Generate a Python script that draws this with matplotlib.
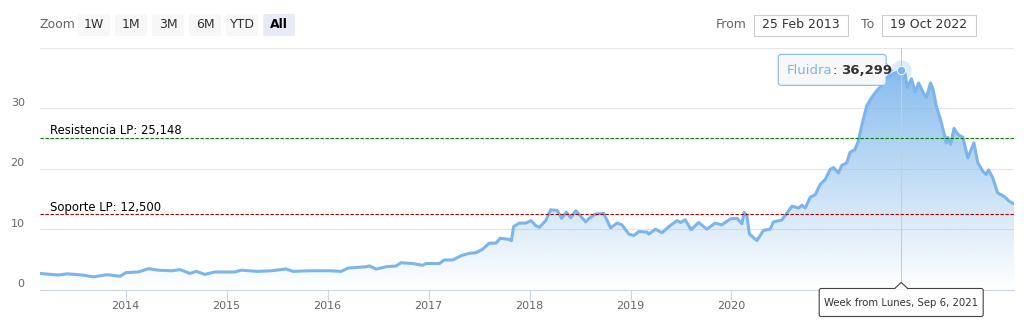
import numpy as np
import pandas as pd
import matplotlib
matplotlib.use("Agg")
import matplotlib.pyplot as plt
import matplotlib.dates as mdates
from matplotlib.patches import FancyBboxPatch, Rectangle, Polygon
from matplotlib.colors import to_rgb
from matplotlib.transforms import ScaledTranslation

# weekly close of Fluidra
dates = [
    "2013-02-25", "2013-05-04", "2013-06-03", "2013-07-27", "2013-09-07", "2013-10-25",
    "2013-12-12", "2014-01-02", "2014-02-16", "2014-03-24", "2014-04-29", "2014-06-16",
    "2014-07-16", "2014-08-21", "2014-09-14", "2014-10-14", "2014-11-19", "2015-01-30",
    "2015-02-23", "2015-04-24", "2015-06-11", "2015-08-04", "2015-08-29", "2015-10-28",
    "2016-01-09", "2016-02-20", "2016-03-15", "2016-05-20", "2016-06-01", "2016-06-25",
    "2016-07-31", "2016-09-05", "2016-09-23", "2016-11-04", "2016-12-10", "2016-12-22",
    "2017-02-09", "2017-02-25", "2017-03-29", "2017-04-28", "2017-05-28", "2017-06-21",
    "2017-07-15", "2017-08-08", "2017-09-01", "2017-09-17", "2017-10-19", "2017-10-27",
    "2017-11-04", "2017-11-24", "2017-12-18", "2018-01-06", "2018-01-24", "2018-02-05",
    "2018-02-28", "2018-03-18", "2018-04-11", "2018-04-27", "2018-05-14", "2018-05-30",
    "2018-06-17", "2018-07-23", "2018-08-03", "2018-08-28", "2018-09-26", "2018-10-21",
    "2018-11-13", "2018-12-01", "2018-12-26", "2019-01-13", "2019-01-31", "2019-03-02",
    "2019-03-08", "2019-04-01", "2019-04-25", "2019-05-19", "2019-06-18", "2019-07-01",
    "2019-07-18", "2019-08-08", "2019-09-04", "2019-10-04", "2019-11-03", "2019-11-27",
    "2019-12-28", "2020-01-21", "2020-02-08", "2020-02-16", "2020-02-26", "2020-03-06",
    "2020-04-02", "2020-04-26", "2020-05-20", "2020-06-01", "2020-07-01", "2020-08-07",
    "2020-08-31", "2020-09-12", "2020-09-24", "2020-10-12", "2020-10-30", "2020-11-17",
    "2020-12-05", "2020-12-23", "2021-01-04", "2021-01-22", "2021-02-03", "2021-02-21",
    "2021-03-05", "2021-03-23", "2021-04-04", "2021-04-16", "2021-05-04", "2021-05-22",
    "2021-06-09", "2021-06-27", "2021-07-14", "2021-08-07", "2021-09-06", "2021-09-20",
    "2021-09-28", "2021-10-13", "2021-10-27", "2021-11-08", "2021-11-24", "2021-12-06",
    "2021-12-21", "2021-12-30", "2022-01-11", "2022-01-29", "2022-02-16", "2022-02-22",
    "2022-03-04", "2022-03-16", "2022-03-30", "2022-04-17", "2022-05-05", "2022-05-27",
    "2022-06-10", "2022-06-28", "2022-07-10", "2022-07-19", "2022-08-03", "2022-08-21",
    "2022-09-14", "2022-10-02", "2022-10-19",
]
values = [
    2.65, 2.4, 2.6, 2.4, 2.1, 2.45,
    2.2, 2.8, 2.9, 3.45, 3.2, 3.1,
    3.3, 2.67, 3.0, 2.5, 2.9, 2.9,
    3.2, 3.0, 3.1, 3.4, 3.0, 3.1,
    3.1, 3.0, 3.55, 3.77, 3.9, 3.38,
    3.77, 3.9, 4.44, 4.3, 4.0, 4.3,
    4.3, 4.88, 4.9, 5.6, 6.0, 6.1,
    6.67, 7.67, 7.67, 8.5, 8.3, 8.1,
    10.4, 11.0, 11.0, 11.4, 10.55, 10.3,
    11.4, 13.2, 13.1, 11.8, 12.8, 11.9,
    13.05, 11.2, 11.75, 12.5, 12.6, 10.2,
    11.0, 10.7, 9.17, 8.94, 9.6, 9.5,
    9.17, 10.0, 9.4, 10.4, 11.4, 11.1,
    11.55, 9.9, 11.1, 10.0, 11.0, 10.7,
    11.7, 11.8, 10.9, 12.8, 12.2, 9.2,
    8.1, 9.8, 10.0, 11.2, 11.5, 13.8,
    13.5, 13.95, 13.5, 15.3, 15.7, 17.4,
    18.2, 19.9, 20.2, 19.3, 20.55, 21.0,
    22.7, 23.2, 24.6, 27.1, 30.4, 31.8,
    32.9, 33.8, 34.9, 35.7, 36.299, 35.7,
    33.5, 34.9, 32.7, 34.2, 32.7, 31.8,
    34.2, 33.2, 30.4, 27.7, 24.3, 25.2,
    24.05, 26.7, 25.7, 25.2, 21.8, 24.3,
    21.0, 19.6, 19.05, 19.8, 18.5, 16.0,
    15.4, 14.6, 14.2,
]
series_name = "Fluidra"
hover_date = "2021-09-06"
hover_label = "Week from Lunes, Sep 6, 2021"
resistance = 25.148
support = 12.5

year_ticks = ["2014-01-01", "2015-01-01", "2016-01-01", "2017-01-01", "2018-01-01",
              "2019-01-01", "2020-01-01", "2021-01-01", "2022-01-01"]
year_labels = ["2014", "2015", "2016", "2017", "2018", "2019", "2020", "2021", "2022"]
y_ticks = [0, 10, 20, 30, 40]
y_labels = ["0", "10", "20", "30", ""]
zoom_buttons = ["1W", "1M", "3M", "6M", "YTD", "All"]
range_from = "25 Feb 2013"
range_to = "19 Oct 2022"


def es(v):
    return f"{v:,.3f}".replace(".", "#").replace(",", ".").replace("#", ",")


blue = "#7cb5ec"
W, H = 1024, 327
plt.rcParams["font.family"] = "DejaVu Sans"

fig = plt.figure(figsize=(W / 100, H / 100), dpi=100)
ax = fig.add_axes([40 / W, (H - 289.5) / H, 974 / W, 241.5 / H])

x = mdates.date2num(pd.to_datetime(dates))
hx = mdates.date2num(pd.Timestamp(hover_date))
hy = values[dates.index(hover_date)]

# gradient area under the line
verts = np.vstack([np.column_stack([x, values]), [[x[-1], 0], [x[0], 0]]])
clip = Polygon(verts, closed=True, facecolor="none", edgecolor="none")
ax.add_patch(clip)
grad = np.zeros((256, 1, 4))
grad[:, :, :3] = to_rgb(blue)
grad[:, 0, 3] = np.linspace(1, 0, 256)
im = ax.imshow(grad, extent=[x[0], x[-1], 0, 40], origin="upper", aspect="auto",
               interpolation="bilinear", zorder=2)
im.set_clip_path(clip)

ax.plot(x, values, color=blue, lw=2.2, solid_joinstyle="round", zorder=4)

# support / resistance
for val, col, name in [(resistance, "#008000", "Resistencia LP"), (support, "#a50000", "Soporte LP")]:
    ax.axhline(val, color=col, lw=0.8, dashes=(3, 1.5), zorder=5)
    ax.annotate(f"{name}: {es(val)}", xy=(0, val), xycoords=("axes fraction", "data"),
                xytext=(7.5, 2.5), textcoords="offset points", va="baseline",
                fontsize=8.4, color="#000000", zorder=6)

# hover crosshair + point
ax.axvline(hx, color="#cccccc", lw=0.8, zorder=3)
ax.plot(hx, hy, "o", ms=14.5, color=blue, alpha=0.25, mec="none", zorder=7)
ax.plot(hx, hy, "o", ms=6, color=blue, mec="white", mew=0.6, zorder=8)

ax.set_xlim(mdates.date2num(pd.Timestamp("2013-02-25")), mdates.date2num(pd.Timestamp("2022-10-19")))
ax.set_ylim(0, 40)
ax.set_xticks(mdates.date2num(pd.to_datetime(year_ticks)))
ax.set_xticklabels(year_labels)
ax.set_yticks(y_ticks)
ax.set_yticklabels(y_labels)
ax.tick_params(axis="x", length=7.2, width=0.8, color="#ccd6eb", labelcolor="#666666",
               labelsize=8, pad=1)
ax.tick_params(axis="y", length=0, labelcolor="#666666", labelsize=8, pad=11)
off = ScaledTranslation(0, 4.5 / 72, fig.dpi_scale_trans)
for lab in ax.get_yticklabels():
    lab.set_transform(lab.get_transform() + off)
ax.grid(axis="y", color="#e6e6e6", lw=0.8)
ax.set_axisbelow(True)
for s in ["top", "left", "right"]:
    ax.spines[s].set_visible(False)
ax.spines["bottom"].set_color("#ccd6eb")
ax.spines["bottom"].set_linewidth(0.8)
ax.spines["bottom"].set_zorder(6)

# overlay in pixel coordinates for the range selector and tooltips
ov = fig.add_axes([0, 0, 1, 1])
ov.set_xlim(0, W)
ov.set_ylim(H, 0)
ov.axis("off")
ov.set_zorder(10)

ov.text(40, 25, "Zoom", color="#666666", fontsize=9, va="center", ha="left")
for i, b in enumerate(zoom_buttons):
    bx = 78 + i * 37
    sel = b == "All"
    ov.add_patch(FancyBboxPatch((bx, 14), 32, 22, boxstyle="round,pad=0,rounding_size=2",
                                fc="#e6ebf5" if sel else "#f7f7f7", ec="none"))
    ov.text(bx + 16, 25, b, color="#000000" if sel else "#333333", fontsize=9,
            fontweight="bold" if sel else "normal", ha="center", va="center")

ov.text(716, 25, "From", color="#666666", fontsize=9, va="center")
ov.add_patch(Rectangle((753.5, 14.5), 94, 21, fc="white", ec="#cccccc", lw=0.8))
ov.text(800.5, 25, range_from, color="#333333", fontsize=9, ha="center", va="center")
ov.text(861, 25, "To", color="#666666", fontsize=9, va="center")
ov.add_patch(Rectangle((881.5, 14.5), 94, 21, fc="white", ec="#cccccc", lw=0.8))
ov.text(928.5, 25, range_to, color="#333333", fontsize=9, ha="center", va="center")

# pixel location of the hovered point
px, pyd = ax.transData.transform((hx, hy))
py = H - pyd

# value tooltip (left of the point)
l, r, t, b = px - 123, px - 15, py - 16, py + 15
ov.add_patch(FancyBboxPatch((l, t), r - l, b - t, boxstyle="round,pad=0,rounding_size=3",
                            fc="#f7f7f7", ec=blue, lw=0.8, alpha=0.95))
ov.add_patch(Polygon([(r - 0.5, py - 7), (px - 9, py), (r - 0.5, py + 7)], closed=True,
                     fc="#f7f7f7", ec="none"))
ov.plot([r, px - 9, r], [py - 7, py, py + 7], color=blue, lw=0.8)
renderer = fig.canvas.get_renderer()
t1 = ov.text(l + 9, py, series_name, color=blue, fontsize=9.5, va="center")
e1 = t1.get_window_extent(renderer)
t2 = ov.text(l + 9 + e1.width, py, ": ", color="#333333", fontsize=9.5, va="center")
e2 = t2.get_window_extent(renderer)
ov.text(l + 9 + e1.width + e2.width, py, es(hy), color="#333333", fontsize=9.5,
        fontweight="bold", va="center")

# date label under the crosshair (covers the 2021/2022 labels, as in the original)
l2, r2, t2y, b2y = px - 82, px + 82, 288.5, 316.5
ov.add_patch(FancyBboxPatch((l2, t2y), r2 - l2, b2y - t2y, boxstyle="round,pad=0,rounding_size=2",
                            fc="white", ec="#444444", lw=0.8))
ov.add_patch(Polygon([(px - 6.5, t2y + 0.5), (px, t2y - 6), (px + 6.5, t2y + 0.5)], closed=True,
                     fc="white", ec="none"))
ov.plot([px - 6.5, px, px + 6.5], [t2y, t2y - 6, t2y], color="#444444", lw=0.8)
ov.text(px, (t2y + b2y) / 2, hover_label, color="#333333", fontsize=7.3, ha="center", va="center")

fig.savefig("out.png", dpi=100)
